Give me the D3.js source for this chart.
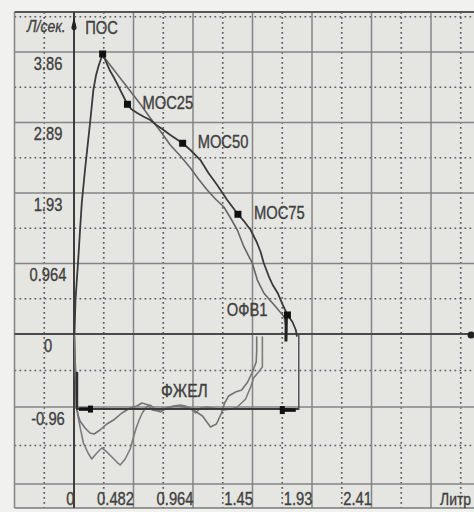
<!DOCTYPE html>
<html>
<head>
<meta charset="utf-8">
<script src="https://cdn.jsdelivr.net/npm/d3@7"></script>
<style>
  html, body { margin: 0; padding: 0; background: #f1f1ef; }
  svg { display: block; }
  .lbl { font-family: "Liberation Sans", Arial, sans-serif; fill: #404040; stroke: #404040; stroke-width: 0.35; }
</style>
</head>
<body>
<svg id="chart" width="474" height="512"></svg>
<script>
// flow-volume loop, two efforts. volume in L, flow in L/s
const xTickValues = [0, 0.482, 0.964, 1.446, 1.928, 2.41]
const xTickLabels = ["0", "0.482", "0.964", "1.45", "1.93", "2.41"]
const xUnit = "Литр"
const yTickValues = [3.856, 2.892, 1.928, 0.964, 0, -0.964]
const yTickLabels = ["3.86", "2.89", "1.93", "0.964", "0", "-0.96"]
const yUnit = "Л/сек."

// expiration, effort with the markers
const exp1 = [[0.004,0],[0.012,0.465],[0.033,0.985],[0.049,1.422],[0.063,1.791],[0.089,2.243],
  [0.130,2.885],[0.157,3.337],[0.179,3.542],[0.199,3.665],[0.232,3.829],[0.260,3.719],[0.293,3.596],
  [0.321,3.514],[0.350,3.419],[0.374,3.337],[0.407,3.227],[0.433,3.141],[0.463,3.077],[0.512,3.022],
  [0.569,2.967],[0.618,2.926],[0.667,2.858],[0.715,2.803],[0.780,2.721],[0.829,2.667],[0.880,2.608],
  [0.943,2.516],[1.024,2.379],[1.089,2.202],[1.160,2.037],[1.241,1.832],[1.328,1.637],[1.382,1.532],
  [1.431,1.422],[1.480,1.258],[1.512,1.121],[1.537,0.971],[1.577,0.793],[1.610,0.670],[1.650,0.561],
  [1.691,0.397],[1.729,0.260],[1.770,0.164],[1.797,0.055],[1.805,-0.026]]
// expiration, second effort
const exp2 = [[0.236,3.801],[0.374,3.501],[0.537,3.145],[0.618,2.954],[0.699,2.776],[0.780,2.584],
  [0.862,2.434],[0.943,2.270],[1.008,2.120],[1.079,1.969],[1.146,1.846],[1.214,1.737],[1.268,1.586],
  [1.323,1.422],[1.376,1.194],[1.445,0.967],[1.485,0.738],[1.539,0.557],[1.593,0.451],[1.634,0.373],
  [1.702,0.237],[1.715,0.100],[1.715,-0.079]]
// inspiration, two efforts
const insp1 = [[0.004,-0.026],[0.012,-0.502],[0.020,-0.938],[0.033,-1.064],[0.049,-1.139],[0.089,-1.227],
  [0.130,-1.289],[0.163,-1.302],[0.211,-1.252],[0.266,-1.177],[0.320,-1.127],[0.388,-1.039],[0.455,-0.977],
  [0.510,-0.951],[0.550,-0.911],[0.602,-0.938],[0.634,-1.002],[0.675,-1.014],[0.724,-0.989],[0.780,-0.964],
  [0.837,-0.951],[0.886,-0.964],[0.967,-1.002],[1.041,-1.077],[1.106,-1.214],[1.154,-1.177],[1.195,-1.039],
  [1.220,-0.911],[1.252,-0.819],[1.309,-0.766],[1.358,-0.739],[1.407,-0.634],[1.445,-0.502],[1.476,-0.370],
  [1.480,-0.211],[1.480,-0.040]]
const insp2 = [[0.004,-0.026],[0.012,-0.502],[0.020,-0.977],[0.049,-1.214],[0.076,-1.415],[0.114,-1.540],
  [0.144,-1.615],[0.185,-1.540],[0.225,-1.477],[0.266,-1.527],[0.307,-1.590],[0.347,-1.653],[0.374,-1.690],
  [0.415,-1.615],[0.455,-1.490],[0.480,-1.352],[0.504,-1.227],[0.528,-1.127],[0.553,-1.039],[0.585,-0.964],
  [0.618,-0.938],[0.659,-0.989],[0.699,-1.027],[0.754,-0.977],[0.805,-0.951],[0.862,-0.938],[0.902,-0.951],
  [0.943,-0.977],[0.984,-1.039],[1.024,-0.977],[1.079,-0.964],[1.130,-0.977],[1.211,-1.002],[1.276,-0.989],
  [1.323,-0.964],[1.366,-0.898],[1.390,-0.858],[1.431,-0.700],[1.455,-0.581],[1.488,-0.515],[1.526,-0.436],
  [1.526,-0.040]]

const markerNames = ["ПОС", "МОС25", "МОС50", "МОС75", "ОФВ1"]
const markerVol = [0.232, 0.433, 0.880, 1.328, 1.729]
const markerFlow = [3.829, 3.141, 2.608, 1.637, 0.260]

const fvcName = "ФЖЕЛ"
const fvcStart = 0.016
const fvcEnd = 1.821
const fvcFlow = -0.99

// layout
const W = 474, H = 512
const frameTop = 12, frameBottom = 508
const labelPos = { "ПОС": [-17.5, -20, "start"], "МОС25": [15, 4.5, "start"], "МОС50": [15, 4.5, "start"],
  "МОС75": [16, 4.5, "start"], "ОФВ1": [-20, 1, "end"] }

const svg = d3.select("#chart")
const x = d3.scaleLinear().domain([0, 2.41]).range([74, 371.5])
const y = d3.scaleLinear().domain([-1.928, -0.964, 0, 3.856]).range([484, 407, 334, 52])
const frameLeft = x(-0.482)

svg.append("rect").attr("x", frameLeft).attr("y", frameTop)
  .attr("width", W - frameLeft + 5).attr("height", frameBottom - frameTop)
  .attr("fill", "#e5e5e2")

const grid = svg.append("g")
const majorX = d3.range(-1, 8).map(i => i * 0.482)
const minorX = d3.range(-1, 7).map(i => i * 0.482 + 0.241)
const majorY = d3.range(-2, 5).map(i => i * 0.964)
const minorY = d3.range(-2, 5).map(i => i * 0.964 + 0.482)

grid.selectAll(".vmin").data(minorX).join("line")
  .attr("x1", d => x(d)).attr("x2", d => x(d)).attr("y1", frameTop).attr("y2", frameBottom)
  .attr("stroke", "#5c5c5c").attr("stroke-width", 1.7).attr("stroke-dasharray", "1.7,3.3")
grid.selectAll(".hmin").data(minorY.filter(d => y(d) > frameTop)).join("line")
  .attr("x1", frameLeft).attr("x2", W).attr("y1", d => y(d)).attr("y2", d => y(d))
  .attr("stroke", "#5c5c5c").attr("stroke-width", 1.7).attr("stroke-dasharray", "1.7,3.3")
grid.selectAll(".vmaj").data(majorX).join("line")
  .attr("x1", d => x(d)).attr("x2", d => x(d)).attr("y1", frameTop).attr("y2", frameBottom)
  .attr("stroke", "#858583").attr("stroke-width", 1.5)
grid.selectAll(".hmaj").data(majorY).join("line")
  .attr("x1", frameLeft).attr("x2", W).attr("y1", d => y(d)).attr("y2", d => y(d))
  .attr("stroke", "#858583").attr("stroke-width", 1.5)

// frame
grid.append("line").attr("x1", frameLeft).attr("x2", W).attr("y1", frameTop).attr("y2", frameTop)
  .attr("stroke", "#555").attr("stroke-width", 2)
grid.append("line").attr("x1", frameLeft).attr("x2", W).attr("y1", frameBottom).attr("y2", frameBottom)
  .attr("stroke", "#7a7a7a").attr("stroke-width", 1.6)

// axes
svg.append("line").attr("x1", frameLeft).attr("x2", W - 3).attr("y1", y(0)).attr("y2", y(0))
  .attr("stroke", "#4a4a4a").attr("stroke-width", 2)
svg.append("circle").attr("cx", W - 3).attr("cy", y(0) + 1).attr("r", 3.5).attr("fill", "#222")
svg.append("line").attr("x1", x(0)).attr("x2", x(0)).attr("y1", frameTop).attr("y2", frameBottom)
  .attr("stroke", "#3e3e3e").attr("stroke-width", 2)
svg.append("path").attr("d", `M${x(0)},17 L${x(0) + 2.5},27 A2.6,2.6 0 1 1 ${x(0) - 2.5},27 Z`)
  .attr("fill", "#222")

const addText = (str, px, py, anchor, size, italic) => {
  svg.append("text").attr("class", "lbl")
    .attr("transform", `translate(${px},${py}) scale(0.82,1)`)
    .attr("text-anchor", anchor)
    .attr("font-size", size)
    .attr("font-style", italic ? "italic" : "normal")
    .text(str)
}

yTickValues.forEach((v, i) => addText(yTickLabels[i], 48, y(v) + 17.5, "middle", 18))
xTickValues.forEach((v, i) => addText(xTickLabels[i], x(v) + 0.5, 505, "end", 18))
addText(xUnit, 440, 505, "start", 17)
addText(yUnit, 27, 32, "start", 17, true)

// curves
const line = d3.line().x(d => x(d[0])).y(d => y(d[1]))
const drawCurve = (data, colour, width) => {
  svg.append("path").attr("d", line(data)).attr("fill", "none")
    .attr("stroke", colour).attr("stroke-width", width)
    .attr("stroke-linejoin", "round").attr("stroke-linecap", "round")
}
drawCurve(insp2, "#7c7c7c", 1.6)
drawCurve(insp1, "#747474", 1.6)
drawCurve(exp2, "#666", 1.6)
drawCurve(exp1, "#3a3a3a", 1.8)

// FVC dimension
const fy = y(fvcFlow)
svg.append("line").attr("x1", x(fvcStart)).attr("x2", x(fvcEnd)).attr("y1", fy).attr("y2", fy)
  .attr("stroke", "#3a3a3a").attr("stroke-width", 2)
svg.append("line").attr("x1", x(fvcStart) + 1).attr("x2", x(fvcStart) + 1).attr("y1", y(-0.5)).attr("y2", fy)
  .attr("stroke", "#2e2e2e").attr("stroke-width", 2.5)
svg.append("line").attr("x1", x(fvcEnd)).attr("x2", x(fvcEnd)).attr("y1", y(0)).attr("y2", fy + 1)
  .attr("stroke", "#4a4a4a").attr("stroke-width", 1.4)
svg.append("line").attr("x1", x(fvcStart) + 3).attr("x2", x(fvcStart) + 16).attr("y1", fy).attr("y2", fy)
  .attr("stroke", "#111").attr("stroke-width", 3.5)
svg.append("rect").attr("x", x(fvcStart) + 12).attr("y", fy - 3.5).attr("width", 5).attr("height", 7).attr("fill", "#111")
svg.append("line").attr("x1", x(fvcEnd) - 18).attr("x2", x(fvcEnd) - 3).attr("y1", fy + 1).attr("y2", fy + 1)
  .attr("stroke", "#111").attr("stroke-width", 3.5)
svg.append("rect").attr("x", x(fvcEnd) - 19).attr("y", fy - 3).attr("width", 5).attr("height", 8).attr("fill", "#111")
addText(fvcName, (x(fvcStart) + x(fvcEnd)) / 2 - 3, fy - 12, "middle", 19)

// FEV1 drop to the axis
const iF = markerNames.indexOf("ОФВ1")
svg.append("line").attr("x1", x(markerVol[iF]) - 1).attr("x2", x(markerVol[iF]) - 1.5)
  .attr("y1", y(markerFlow[iF])).attr("y2", y(-0.1))
  .attr("stroke", "#222").attr("stroke-width", 3)

// markers
markerNames.forEach((name, i) => {
  const px = x(markerVol[i]), py = y(markerFlow[i])
  svg.append("rect").attr("x", px - 3.5).attr("y", py - 3.5).attr("width", 7).attr("height", 7).attr("fill", "#111")
  const [dx, dy, anchor] = labelPos[name]
  addText(name, px + dx, py + dy, anchor, 18)
})
</script>
</body>
</html>
